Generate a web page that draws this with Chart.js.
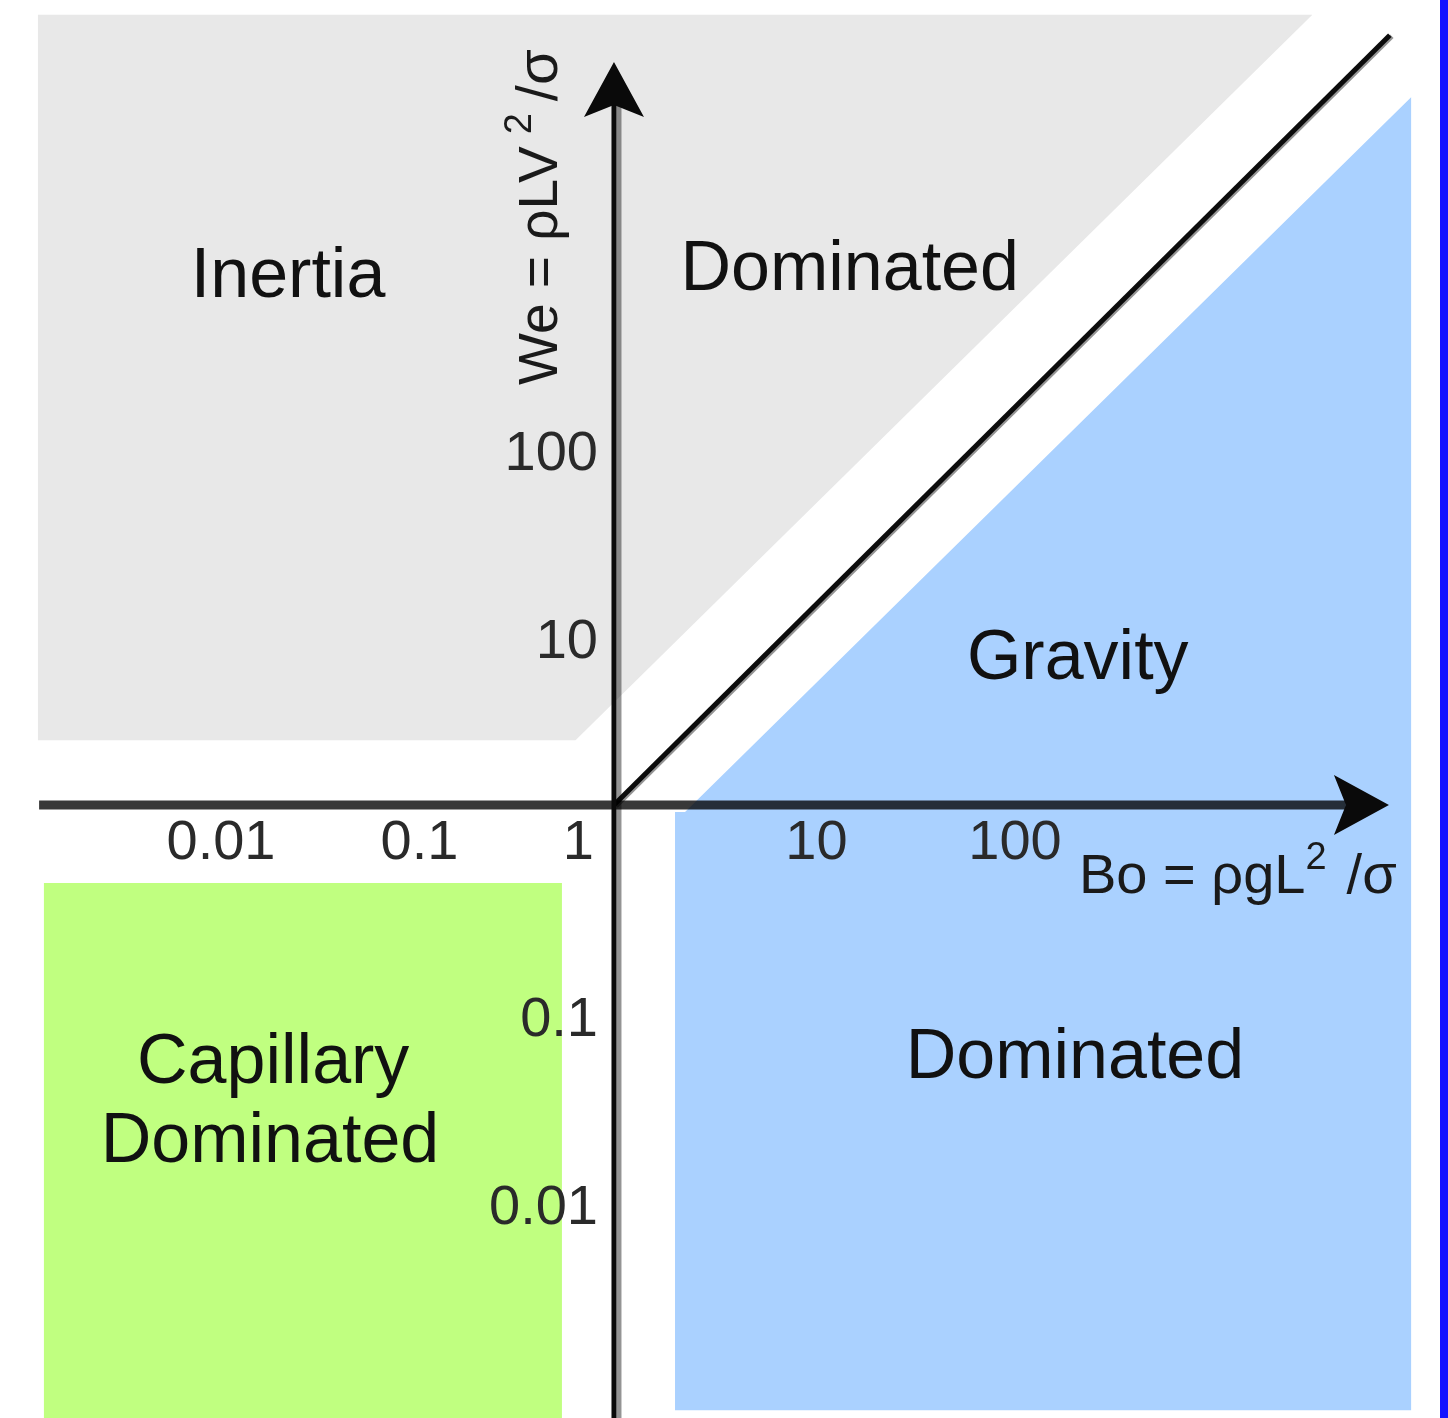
<!DOCTYPE html>
<html>
<head>
<meta charset="utf-8">
<script src="https://cdn.jsdelivr.net/npm/chart.js@4.4.1/dist/chart.umd.min.js"></script>
<style>
  html, body { margin: 0; padding: 0; background: #ffffff; }
  #wrap { width: 1440px; height: 1418px; border-right: 8px solid #1212ff; background: #ffffff; }
  canvas { display: block; }
</style>
</head>
<body>
<div id="wrap"><canvas id="regime" width="1440" height="1418"></canvas></div>
<script>
// Axis ranges (Bond number on x, Weber number on y), both logarithmic
const boRange = [0.000807, 14500];
const weRange = [0.000564, 18450];

// Decade tick labels drawn along the two crossing axes
const boTickValues = [0.01, 0.1, 1, 10, 100];
const boTickLabels = ['0.01', '0.1', '1', '10', '100'];
const weTickValues = [0.01, 0.1, 10, 100];
const weTickLabels = ['0.01', '0.1', '10', '100'];

// Regime regions (boundary lines; each is filled to a limit value)
const inertiaEdge = [{x: 0.00125, y: 2.2}, {x: 0.64, y: 2.2}, {x: 3300, y: 15400}];
const inertiaTop = 15400;
const gravityEdge = [{x: 2.03, y: 0.918}, {x: 2.28, y: 0.918}, {x: 10400, y: 5650}];
const gravityBottom = 0.00062;
const capillaryEdge = [{x: 0.00134, y: 0.386}, {x: 0.547, y: 0.386}];

// We = Bo dividing line and the two axes through (1, 1)
const balanceLine = [{x: 1, y: 1}, {x: 8100, y: 12000}];
const boAxisLine = [{x: 0.00127, y: 1}, {x: 4870, y: 1}];
const weAxisLine = [{x: 1, y: 0.000564}, {x: 1, y: 5120}];

// Region names anchored in (Bo, We) space
const regionNames = ['Inertia', 'Dominated', 'Gravity', 'Dominated', 'Capillary', 'Dominated'];
const regionBo = [0.0228, 15.4, 217, 210, 0.0192, 0.0185];
const regionWe = [492, 536, 4.65, 0.0358, 0.0336, 0.0128];

const FONT = '"Liberation Sans", Arial, Helvetica, sans-serif';

function drawParts(ctx, parts, x, y) {
  let cx = x;
  parts.forEach(p => {
    ctx.font = p.size + 'px ' + FONT;
    cx += (p.pre || 0);
    ctx.fillText(p.t, cx, y + (p.dy || 0));
    cx += ctx.measureText(p.t).width + (p.gap || 0);
  });
}

// Gray offset shadow on selected strokes
const strokeShadow = {
  id: 'strokeShadow',
  beforeDatasetDraw(chart, args) {
    const ds = chart.data.datasets[args.index];
    chart.ctx.save();
    if (ds.shadowX) {
      chart.ctx.shadowColor = 'rgba(0,0,0,0.42)';
      chart.ctx.shadowOffsetX = ds.shadowX;
      chart.ctx.shadowOffsetY = ds.shadowY || 0;
      chart.ctx.shadowBlur = 0;
    }
  },
  afterDatasetDraw(chart) {
    chart.ctx.restore();
  }
};

// Arrowheads at the end of the axis lines, plus all the text
const annotations = {
  id: 'annotations',
  afterDatasetsDraw(chart) {
    const ctx = chart.ctx;
    const xs = chart.scales.x, ys = chart.scales.y;

    chart.data.datasets.forEach((ds, i) => {
      if (!ds.arrow) return;
      const pts = chart.getDatasetMeta(i).data;
      const end = pts[pts.length - 1], prev = pts[pts.length - 2];
      const ang = Math.atan2(end.y - prev.y, end.x - prev.x);
      ctx.save();
      ctx.translate(end.x, end.y);
      ctx.rotate(ang);
      ctx.beginPath();
      ctx.moveTo(43, 0);
      ctx.lineTo(-12, -30);
      ctx.lineTo(0, 0);
      ctx.lineTo(-12, 30);
      ctx.closePath();
      ctx.fillStyle = '#0a0a0a';
      ctx.fill();
      ctx.restore();
    });

    const ox = xs.getPixelForValue(1), oy = ys.getPixelForValue(1);

    ctx.save();
    ctx.fillStyle = '#2a2a2a';
    ctx.font = '56px ' + FONT;
    ctx.textBaseline = 'alphabetic';
    boTickValues.forEach((v, k) => {
      if (v === 1) {
        ctx.textAlign = 'right';
        ctx.fillText(boTickLabels[k], ox - 20, oy + 54);
      } else {
        ctx.textAlign = 'center';
        ctx.fillText(boTickLabels[k], xs.getPixelForValue(v) + 4, oy + 54);
      }
    });
    ctx.textAlign = 'right';
    weTickValues.forEach((v, k) => {
      ctx.fillText(weTickLabels[k], ox - 16, ys.getPixelForValue(v) + 42);
    });

    // Region names
    ctx.fillStyle = '#111111';
    ctx.font = '70px ' + FONT;
    ctx.textAlign = 'center';
    regionNames.forEach((name, k) => {
      ctx.fillText(name, xs.getPixelForValue(regionBo[k]), ys.getPixelForValue(regionWe[k]));
    });

    // Axis titles
    ctx.fillStyle = '#1a1a1a';
    ctx.textAlign = 'left';
    drawParts(ctx, [
      {t: 'Bo = \u03C1gL', size: 56},
      {t: '2', size: 38, dy: -24, gap: 20},
      {t: '/\u03C3', size: 56}
    ], ox + 465, oy + 88);

    ctx.translate(ox - 57, oy - 420);
    ctx.rotate(-Math.PI / 2);
    drawParts(ctx, [
      {t: 'We = \u03C1LV', size: 55},
      {t: '2', size: 38, dy: -26, pre: 12, gap: 12},
      {t: '/\u03C3', size: 58}
    ], 0, 0);
    ctx.restore();
  }
};

new Chart(document.getElementById('regime'), {
  type: 'line',
  data: {
    datasets: [
      {
        label: 'Inertia dominated',
        data: inertiaEdge,
        fill: {value: inertiaTop},
        backgroundColor: '#e8e8e8',
        borderColor: 'transparent',
        borderWidth: 0,
        order: 10
      },
      {
        label: 'Gravity dominated',
        data: gravityEdge,
        fill: {value: gravityBottom},
        backgroundColor: '#aad1ff',
        borderColor: 'transparent',
        borderWidth: 0,
        order: 10
      },
      {
        label: 'Capillary dominated',
        data: capillaryEdge,
        fill: 'start',
        backgroundColor: '#c0ff80',
        borderColor: 'transparent',
        borderWidth: 0,
        order: 10
      },
      {
        label: 'We = Bo',
        data: balanceLine,
        fill: false,
        borderColor: '#0c0c0c',
        borderWidth: 5,
        shadowX: 2,
        shadowY: 1,
        order: 3
      },
      {
        label: 'Bo axis',
        data: boAxisLine,
        fill: false,
        borderColor: 'rgba(0,0,0,0.78)',
        borderWidth: 9,
        arrow: true,
        order: 2
      },
      {
        label: 'We axis',
        data: weAxisLine,
        fill: false,
        borderColor: '#0a0a0a',
        borderWidth: 5,
        shadowX: 5,
        arrow: true,
        order: 1
      }
    ]
  },
  options: {
    responsive: false,
    animation: false,
    layout: {padding: 0},
    elements: {point: {radius: 0, hoverRadius: 0}, line: {tension: 0, borderCapStyle: 'butt'}},
    plugins: {legend: {display: false}, tooltip: {enabled: false}},
    scales: {
      x: {type: 'logarithmic', min: boRange[0], max: boRange[1], bounds: 'data', display: false},
      y: {type: 'logarithmic', min: weRange[0], max: weRange[1], bounds: 'data', display: false}
    }
  },
  plugins: [strokeShadow, annotations]
});
</script>
</body>
</html>
